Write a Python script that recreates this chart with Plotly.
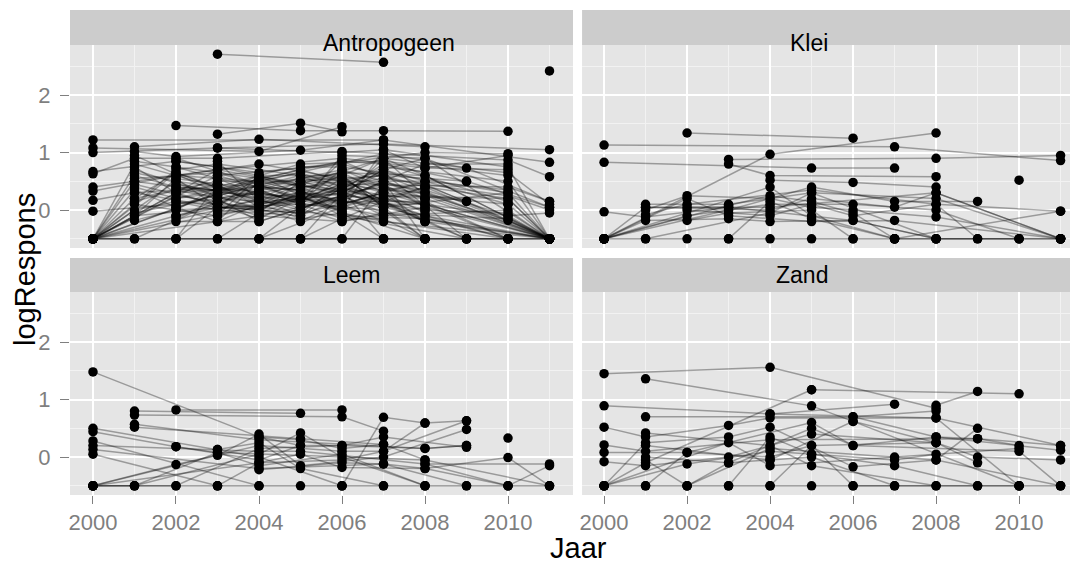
import plotly.graph_objects as go

# facet names, in the order of the panels (top-left, top-right, bottom-left, bottom-right)
facets = ["Antropogeen", "Klei", "Leem", "Zand"]

x_ticks = [2000, 2002, 2004, 2006, 2008, 2010]
y_ticks = [0, 1, 2]

# one list of (Jaar, logRespons) per site
antropogeen_sites = [
    [(2003, 2.71), (2007, 2.57)],
    [(2011, 2.42)],
    [(2000, 1.22), (2007, 1.22)],
    [(2002, 1.47), (2005, 1.38), (2007, 1.38), (2010, 1.37)],
    [(2003, 1.32), (2005, 1.51), (2006, 1.36)],
    [(2000, 1.08), (2004, 1.02), (2006, 1.45)],
    [(2000, 1.0), (2003, 1.08), (2007, 1.15), (2011, 1.05)],
    [(2001, 1.1), (2004, 1.23), (2008, 1.1)],
    [(2001, 1.02), (2002, 0.93), (2005, 1.04), (2007, 1.22), (2011, 0.83)],
    [(2000, 0.67), (2002, 0.85), (2004, 0.65), (2008, 1.0), (2010, 0.98)],
    [(2000, 0.63), (2001, 0.9), (2003, 0.9), (2006, 1.02), (2010, 0.87), (2011, 0.58)],
    [(2000, 0.4), (2001, 0.5), (2003, 0.7), (2006, 0.9), (2008, 0.73), (2010, 0.7)],
    [(2000, 0.33), (2002, 0.6), (2004, 0.5), (2007, 0.98), (2009, 0.73), (2011, 0.15)],
    [(2000, 0.17), (2001, 0.3), (2003, 0.4), (2005, 0.8), (2007, 0.85), (2010, 0.6)],
    [(2000, -0.02), (2002, 0.1), (2004, 0.3), (2006, 0.5), (2008, 0.5), (2010, 0.35)],
    [(2000, -0.5), (2001, 0.2), (2003, 0.5), (2005, 0.5), (2007, 0.6), (2009, 0.5), (2011, 0.05)],
    [(2000, -0.5), (2002, 0.3), (2004, 0.4), (2006, 0.7), (2008, 0.3), (2011, -0.5)],
    [(2000, -0.5), (2003, 0.6), (2006, 0.8), (2008, 0.4), (2010, 0.2), (2011, -0.5)],
    [(2000, -0.5), (2001, -0.1), (2004, 0.1), (2007, 0.4), (2009, 0.15), (2011, -0.5)],
    [(2000, -0.5), (2002, -0.1), (2005, 0.3), (2007, 0.2), (2010, -0.1), (2011, -0.05)],
    [(2000, -0.5), (2004, 0.55), (2006, 0.3), (2008, -0.1), (2011, -0.5)],
    [(2000, -0.5), (2001, 0.6), (2003, 0.2), (2006, 0.6), (2008, 0.2), (2011, -0.5)],
    [(2000, -0.5), (2005, 0.2), (2007, 0.7), (2010, 0.1), (2011, -0.5)],
    [(2000, -0.5), (2002, 0.5), (2006, 0.1), (2007, 0.3), (2011, -0.5)],
    [(2000, -0.5), (2003, 0.0), (2005, -0.1), (2007, 0.5), (2010, -0.18), (2011, -0.5)],
    [(2000, -0.5), (2001, 0.8), (2004, 0.2), (2006, 0.4), (2009, -0.5)],
    [(2000, -0.5), (2002, 0.7), (2003, 0.8), (2005, 0.6), (2007, 0.05), (2010, 0.3)],
    [(2000, -0.5), (2004, -0.1), (2006, -0.2), (2008, 0.05), (2011, -0.5)],
    [(2001, 0.95), (2003, 0.3), (2006, 0.2), (2008, 0.8), (2010, 0.8)],
    [(2001, 0.7), (2004, 0.0), (2007, 0.9), (2010, 0.65), (2011, 0.1)],
    [(2001, 0.4), (2002, 0.2), (2005, 0.7), (2007, 0.3), (2008, -0.2), (2011, -0.5)],
    [(2001, 0.1), (2003, -0.1), (2004, 0.6), (2006, -0.1), (2009, -0.5)],
    [(2001, -0.18), (2002, 0.0), (2005, 0.1), (2006, 0.95), (2008, 0.9), (2011, -0.5)],
    [(2001, -0.5), (2003, 0.15), (2004, 0.3), (2007, -0.1), (2010, 0.0), (2011, -0.5)],
    [(2001, 0.55), (2003, 0.65), (2006, 0.0), (2007, 1.05), (2010, 0.75), (2011, -0.5)],
    [(2002, 0.9), (2004, 0.45), (2006, 0.65), (2008, 0.6), (2011, -0.5)],
    [(2002, 0.4), (2003, 0.35), (2005, 0.0), (2007, 0.75), (2010, 0.5), (2011, -0.5)],
    [(2002, -0.2), (2004, -0.2), (2006, 0.25), (2008, 0.1), (2011, -0.5)],
    [(2002, 0.05), (2003, -0.2), (2005, 0.4), (2007, -0.2), (2010, -0.5)],
    [(2002, -0.5), (2003, 0.45), (2005, 0.35), (2006, -0.05), (2008, -0.5)],
    [(2002, 0.6), (2004, 0.8), (2006, 0.55), (2007, 0.15), (2009, -0.5)],
    [(2003, -0.5), (2004, -0.05), (2006, 0.45), (2007, 0.55), (2010, 0.25), (2011, 0.0)],
    [(2003, 0.25), (2005, -0.2), (2006, 0.15), (2008, 0.15), (2010, -0.5)],
    [(2003, 0.85), (2004, 0.15), (2007, 0.0), (2008, -0.5)],
    [(2003, -0.1), (2006, 0.35), (2007, -0.5), (2011, -0.5)],
    [(2004, 0.35), (2005, 0.55), (2007, 0.35), (2008, 0.45), (2011, -0.5)],
    [(2004, -0.5), (2006, 0.05), (2007, 0.25), (2010, 0.2), (2011, -0.5)],
    [(2005, 0.75), (2006, 0.75), (2007, 0.65), (2010, 0.3), (2011, -0.5)],
    [(2005, -0.5), (2006, -0.15), (2007, -0.15), (2008, -0.5)],
    [(2006, -0.5), (2007, 0.45), (2008, 0.35), (2010, -0.1), (2011, -0.5)],
    [(2000, -0.5), (2001, 0.0), (2002, 0.15), (2004, 0.05), (2006, -0.1), (2008, -0.15), (2011, -0.5)],
    [(2000, -0.5), (2001, -0.5), (2011, -0.5)],
    [(2000, -0.5), (2003, -0.5), (2005, -0.5), (2007, -0.5), (2009, -0.5), (2011, -0.5)],
    [(2000, -0.5), (2002, -0.5), (2004, -0.5), (2006, -0.5), (2008, -0.5), (2010, -0.5)],
    [(2001, 0.85), (2002, 0.75), (2004, 0.55), (2006, 0.85), (2007, 0.8), (2009, 0.5)],
    [(2002, 0.3), (2004, -0.15), (2005, 0.2), (2007, 0.1), (2008, 0.0), (2010, -0.05)],
    [(2003, 0.55), (2004, 0.25), (2006, -0.2), (2007, -0.05), (2010, -0.15), (2011, -0.5)],
    [(2001, 0.3), (2003, 0.05), (2005, -0.05), (2006, 0.45), (2010, 0.4), (2011, 0.15)],
    [(2002, -0.5), (2004, 0.6), (2006, 0.6), (2008, -0.5)],
    [(2000, -0.5), (2003, 0.7), (2005, 0.45), (2007, 0.6), (2011, -0.5)],
    [(2004, -0.5), (2005, 0.05), (2006, 0.2), (2007, 0.9), (2008, 0.25), (2011, -0.5)],
    [(2001, 0.2), (2002, 0.65), (2005, -0.15), (2006, -0.05), (2007, -0.5)],
    [(2005, -0.5), (2006, 0.3), (2007, 0.7), (2008, 0.9), (2011, 0.05)],
    [(2000, -0.5), (2001, 0.5), (2002, 0.4), (2003, 0.35), (2005, 0.65), (2008, -0.1), (2010, -0.5)],
    [(2003, 1.08), (2006, 1.0), (2007, 1.05), (2008, 0.73), (2010, 0.95)],
    [(2002, 0.2), (2003, 0.3), (2004, 0.1), (2005, 0.25), (2006, 0.35), (2007, 0.2), (2008, 0.0)],
    [(2002, 0.55), (2003, 0.45), (2004, 0.3), (2005, 0.15), (2006, 0.4), (2007, 0.5), (2008, 0.2)],
    [(2002, -0.1), (2003, 0.1), (2004, 0.45), (2005, 0.3), (2006, 0.1), (2007, 0.3), (2008, -0.05)],
    [(2001, 0.15), (2002, 0.35), (2003, 0.2), (2004, 0.15), (2005, 0.45), (2006, 0.25), (2007, -0.1)],
    [(2002, 0.75), (2003, 0.55), (2004, 0.4), (2005, 0.2), (2006, 0.05), (2007, 0.35), (2008, 0.3)],
    [(2003, 0.1), (2004, 0.35), (2005, 0.1), (2006, 0.55), (2007, 0.15), (2008, -0.2)],
    [(2002, 0.45), (2004, 0.2), (2005, 0.5), (2006, 0.3), (2007, 0.65), (2009, -0.5)],
    [(2000, -0.5), (2002, 0.25), (2003, 0.15), (2004, 0.0), (2005, 0.3), (2006, 0.15), (2007, 0.05)],
    [(2001, 0.65), (2002, 0.5), (2003, 0.25), (2005, 0.6), (2006, 0.5), (2007, 0.1), (2008, 0.1)],
    [(2002, 0.0), (2003, 0.4), (2004, 0.25), (2006, 0.0), (2007, 0.2), (2008, 0.4)],
    [(2003, -0.05), (2004, 0.1), (2005, 0.25), (2006, -0.05), (2007, -0.2), (2011, -0.5)],
    [(2001, -0.05), (2003, 0.25), (2004, 0.45), (2005, 0.15), (2006, 0.7), (2007, 0.4), (2010, -0.5)],
    [(2002, 0.15), (2003, 0.0), (2004, 0.2), (2005, -0.1), (2006, 0.4), (2007, 0.25), (2008, 0.2)],
    [(2000, -0.5), (2001, 0.35), (2002, 0.05), (2004, 0.5), (2006, 0.15), (2007, 0.5), (2008, -0.5)],
    [(2003, 0.6), (2004, 0.4), (2005, 0.35), (2006, 0.6), (2007, 0.05), (2010, -0.5)],
    [(2002, 0.85), (2003, 0.75), (2005, 0.45), (2007, 0.9), (2008, 0.6), (2011, -0.5)],
    [(2001, 0.45), (2003, 0.1), (2004, -0.1), (2005, 0.05), (2007, 0.45), (2008, 0.05)],
    [(2002, -0.15), (2003, 0.2), (2004, -0.2), (2006, 0.25), (2007, -0.05), (2011, -0.5)],
    [(2000, -0.5), (2003, 0.3), (2004, 0.6), (2005, 0.4), (2006, 0.45), (2008, -0.2)],
    [(2001, 0.75), (2002, 0.3), (2003, 0.45), (2004, 0.05), (2006, 0.3), (2007, 0.7), (2009, 0.15)],
    [(2003, 0.15), (2004, -0.05), (2005, 0.5), (2006, 0.65), (2007, 0.3), (2010, 0.1)],
    [(2002, 0.35), (2004, 0.35), (2006, -0.15), (2007, 0.15), (2008, 0.4), (2011, -0.5)],
    [(2000, -0.5), (2002, 0.65), (2004, 0.15), (2005, 0.2), (2006, 0.85), (2007, 0.55)],
    [(2003, -0.2), (2004, 0.5), (2006, 0.35), (2007, 0.8), (2010, 0.15)],
    [(2001, -0.1), (2002, 0.55), (2003, 0.05), (2005, -0.05), (2006, 0.1), (2008, 0.5)],
]

klei_sites = [
    [(2002, 1.34), (2006, 1.25)],
    [(2000, 1.13), (2007, 1.1), (2011, 0.86)],
    [(2000, -0.5), (2004, 0.97), (2008, 1.34)],
    [(2000, 0.83), (2005, 0.73), (2007, 0.73)],
    [(2003, 0.88), (2008, 0.9), (2011, 0.95)],
    [(2003, 0.8), (2004, 0.6), (2008, 0.58)],
    [(2004, 0.52), (2006, 0.48), (2008, 0.4)],
    [(2000, -0.03), (2001, -0.12), (2003, 0.05)],
    [(2001, 0.1), (2003, 0.1), (2005, 0.3), (2008, 0.2), (2011, -0.5)],
    [(2001, 0.0), (2002, 0.25), (2004, 0.2), (2005, 0.05), (2006, 0.0), (2008, -0.12), (2011, -0.5)],
    [(2000, -0.5), (2002, -0.1), (2004, 0.1), (2006, 0.1), (2008, 0.0), (2010, -0.5)],
    [(2000, -0.5), (2003, 0.0), (2005, 0.4), (2007, 0.15), (2009, 0.15)],
    [(2000, -0.5), (2001, 0.05), (2004, 0.0), (2005, 0.2), (2007, 0.05), (2008, 0.3), (2011, -0.5)],
    [(2000, -0.5), (2002, 0.2), (2003, -0.1), (2005, -0.2), (2007, -0.18), (2011, -0.5)],
    [(2000, -0.5), (2001, -0.18), (2003, -0.15), (2004, -0.2), (2006, -0.18), (2008, -0.5)],
    [(2002, 0.0), (2004, -0.1), (2005, 0.1), (2006, -0.1), (2008, 0.1), (2011, -0.02)],
    [(2000, -0.5), (2004, 0.4), (2005, -0.1), (2007, -0.5)],
    [(2002, -0.18), (2003, -0.05), (2005, 0.0), (2006, -0.5)],
    [(2000, -0.5), (2001, -0.5), (2002, -0.5), (2003, -0.5), (2004, -0.5), (2005, -0.5),
     (2006, -0.5), (2007, -0.5), (2008, -0.5), (2009, -0.5), (2010, -0.5), (2011, -0.5)],
    [(2001, -0.5), (2004, -0.05), (2005, 0.3), (2008, -0.5)],
    [(2003, -0.5), (2004, 0.15), (2005, -0.15), (2007, -0.5), (2011, -0.5)],
    [(2007, -0.5), (2011, -0.02)],
    [(2010, 0.52)],
    [(2002, 0.05), (2004, 0.05), (2008, 0.3), (2011, -0.5)],
    [(2001, 0.05), (2003, 0.05), (2006, -0.18), (2008, -0.5), (2010, -0.5)],
    [(2000, -0.5), (2003, 0.08), (2004, 0.25), (2005, 0.15), (2006, -0.05), (2007, -0.5)],
    [(2001, -0.08), (2002, 0.1), (2005, 0.35), (2008, 0.1), (2009, -0.5)],
]

leem_sites = [
    [(2000, 1.48), (2004, 0.35), (2005, 0.2)],
    [(2001, 0.8), (2005, 0.76)],
    [(2002, 0.82), (2006, 0.82)],
    [(2001, 0.73), (2006, 0.7), (2007, 0.45)],
    [(2001, 0.57), (2004, 0.3), (2008, 0.15), (2009, 0.2)],
    [(2001, 0.52), (2005, 0.32), (2007, 0.22)],
    [(2000, 0.5), (2003, 0.13), (2004, 0.0), (2006, -0.5)],
    [(2000, 0.44), (2002, 0.18), (2003, 0.08), (2008, -0.05)],
    [(2000, 0.28), (2004, -0.5)],
    [(2000, 0.2), (2004, 0.1), (2005, 0.1), (2008, -0.12), (2011, -0.12)],
    [(2000, 0.13), (2004, -0.2), (2007, -0.12), (2009, -0.5)],
    [(2000, 0.05), (2003, -0.5)],
    [(2000, -0.5), (2002, -0.13), (2004, 0.2), (2006, 0.1), (2007, 0.1), (2008, 0.59), (2009, 0.63)],
    [(2000, -0.5), (2003, 0.03), (2004, 0.4), (2005, -0.15), (2007, 0.0), (2009, 0.48)],
    [(2000, -0.5), (2001, -0.5), (2002, -0.5), (2003, -0.5), (2004, -0.5), (2005, -0.5),
     (2006, -0.5), (2007, -0.5), (2008, -0.5), (2009, -0.5), (2010, -0.5), (2011, -0.5)],
    [(2000, -0.5), (2004, -0.1), (2005, 0.05), (2006, -0.18), (2008, -0.2), (2010, -0.01), (2011, -0.5)],
    [(2000, -0.5), (2002, -0.5), (2004, 0.15), (2006, 0.2), (2007, 0.35), (2009, 0.17)],
    [(2001, -0.5), (2004, 0.05), (2005, 0.42), (2006, 0.0), (2008, -0.5)],
    [(2003, 0.13), (2004, 0.25), (2005, -0.2), (2007, -0.5)],
    [(2006, -0.5), (2007, 0.69), (2008, 0.59)],
    [(2004, -0.22), (2006, -0.1), (2007, -0.12), (2008, -0.2), (2010, -0.5)],
    [(2002, 0.18), (2004, -0.05), (2005, 0.2), (2006, 0.2), (2008, 0.15), (2009, 0.2)],
    [(2010, 0.33)],
    [(2008, -0.12), (2010, -0.5), (2011, -0.15)],
    [(2004, 0.35), (2005, 0.3), (2006, 0.15), (2007, 0.22), (2008, -0.05), (2011, -0.5)],
    [(2000, -0.5), (2001, -0.5), (2003, 0.08), (2004, -0.15), (2006, 0.05), (2008, -0.5)],
    [(2003, -0.5), (2004, -0.1), (2006, -0.05), (2007, 0.1), (2009, 0.63)],
]

zand_sites = [
    [(2000, 1.45), (2004, 1.56), (2008, 0.85)],
    [(2001, 1.36), (2005, 0.89), (2006, 0.62), (2010, -0.5)],
    [(2005, 1.17), (2010, 1.1)],
    [(2008, 0.9), (2009, 1.14)],
    [(2000, 0.89), (2004, 0.75), (2007, 0.92)],
    [(2001, 0.7), (2006, 0.7), (2008, 0.8)],
    [(2000, 0.52), (2001, 0.35), (2003, 0.55), (2004, 0.68), (2008, 0.68), (2011, 0.2)],
    [(2000, 0.21), (2001, 0.1), (2004, 0.3), (2009, 0.32), (2010, 0.2)],
    [(2000, 0.08), (2002, 0.08), (2005, 0.6), (2006, 0.2), (2008, 0.35), (2011, 0.12)],
    [(2000, -0.08), (2001, -0.15), (2003, 0.0), (2005, 0.4), (2008, 0.25), (2009, 0.0), (2011, -0.05)],
    [(2000, -0.5), (2001, -0.1), (2005, 1.17)],
    [(2000, -0.5), (2001, 0.25), (2003, 0.35), (2004, 0.52), (2006, -0.17), (2008, -0.05), (2009, 0.5)],
    [(2000, -0.5), (2002, -0.12), (2004, 0.1), (2005, 0.05), (2007, -0.05), (2008, 0.05)],
    [(2000, -0.5), (2003, 0.25), (2004, -0.15), (2007, 0.0), (2010, 0.15)],
    [(2000, -0.5), (2001, -0.5), (2002, -0.5), (2003, -0.5), (2004, -0.5), (2005, -0.5),
     (2006, -0.5), (2007, -0.5), (2008, -0.5), (2009, -0.5), (2010, -0.5), (2011, -0.5)],
    [(2001, 0.0), (2003, -0.1), (2005, 0.5), (2006, 0.2), (2010, 0.1), (2011, -0.5)],
    [(2001, 0.42), (2004, 0.2), (2005, -0.15), (2008, -0.5)],
    [(2001, -0.5), (2002, 0.08), (2004, 0.0), (2005, 0.2), (2008, 0.25), (2009, -0.1)],
    [(2003, -0.5), (2004, 0.35), (2005, 0.05), (2007, -0.15), (2009, -0.5)],
    [(2004, 0.75), (2008, 0.68), (2010, -0.5)],
    [(2002, -0.5), (2003, -0.1), (2004, -0.05), (2006, 0.62), (2008, 0.25)],
    [(2001, 0.2), (2004, -0.05), (2005, 0.0), (2007, -0.5)],
    [(2004, -0.5), (2005, 0.2), (2006, -0.5), (2010, -0.5)],
    [(2006, 0.7), (2008, 0.35), (2009, 0.32), (2011, 0.2)],
    [(2001, -0.05), (2002, -0.5), (2004, 0.15), (2008, -0.05), (2011, -0.5)],
]

all_sites = [antropogeen_sites, klei_sites, leem_sites, zand_sites]

# panel geometry (paper coords); the page adds an 8px body margin, so the
# figure is 8px smaller than the window and the margins are shifted by 8px
x_domains = [[0, 0.499], [0.508, 1], [0, 0.499], [0.508, 1]]
y_domains = [[0.5093, 0.9278], [0.5093, 0.9278], [0, 0.4186], [0, 0.4186]]
strip_top = [1.0, 1.0, 0.4887, 0.4887]
x_ranges = [[1999.446, 2011.566], [1999.47, 2011.42], [1999.446, 2011.566], [1999.47, 2011.42]]
y_range = [-0.66, 2.87]

FONT = "Liberation Sans, Arial, sans-serif"
GREY50 = "#7f7f7f"

fig = go.Figure()

for i, sites in enumerate(all_sites):
    xa = "x" if i == 0 else "x%d" % (i + 1)
    ya = "y" if i == 0 else "y%d" % (i + 1)
    # lines, one trace per site so the transparency stacks up
    for s in sites:
        if len(s) < 2:
            continue
        fig.add_trace(go.Scatter(
            x=[p[0] for p in s], y=[p[1] for p in s],
            mode="lines", xaxis=xa, yaxis=ya,
            line=dict(color="rgba(0,0,0,0.33)", width=1.5),
            hoverinfo="skip", showlegend=False,
        ))
    # points on top
    px = [p[0] for s in sites for p in s]
    py = [p[1] for s in sites for p in s]
    fig.add_trace(go.Scatter(
        x=px, y=py, mode="markers", xaxis=xa, yaxis=ya,
        marker=dict(color="black", size=9.5),
        showlegend=False,
    ))

layout = dict(
    width=1070, height=558,
    margin=dict(l=62, r=0, t=2, b=71),
    paper_bgcolor="white",
    plot_bgcolor="#e5e5e5",
    font=dict(family=FONT),
    showlegend=False,
)

shapes = []
annotations = []
for i in range(4):
    key = "" if i == 0 else str(i + 1)
    bottom = i >= 2
    left = i % 2 == 0
    layout["xaxis" + key] = dict(
        domain=x_domains[i], range=x_ranges[i], anchor="y" + key,
        tickvals=x_ticks, showticklabels=bottom,
        ticks="outside" if bottom else "", ticklen=8, tickcolor=GREY50, tickwidth=1,
        tickfont=dict(size=22, color=GREY50, family=FONT),
        showgrid=True, gridcolor="white", gridwidth=2, zeroline=False, showline=False,
        minor=dict(tickvals=[2001, 2003, 2005, 2007, 2009, 2011], showgrid=True,
                   gridcolor="#f2f2f2", gridwidth=1),
    )
    layout["yaxis" + key] = dict(
        domain=y_domains[i], range=y_range, anchor="x" + key,
        tickvals=y_ticks, showticklabels=left,
        ticks="outside" if left else "", ticklen=9, tickcolor=GREY50, tickwidth=1,
        ticklabelstandoff=5,
        tickfont=dict(size=22, color=GREY50, family=FONT),
        showgrid=True, gridcolor="white", gridwidth=2, zeroline=False, showline=False,
        minor=dict(tickvals=[-0.5, 0.5, 1.5, 2.5], showgrid=True,
                   gridcolor="#f2f2f2", gridwidth=1),
    )
    # facet strip
    shapes.append(dict(type="rect", xref="paper", yref="paper",
                       x0=x_domains[i][0], x1=x_domains[i][1],
                       y0=y_domains[i][1], y1=strip_top[i],
                       fillcolor="#cccccc", line=dict(width=0), layer="below"))
    annotations.append(dict(text=facets[i], xref="paper", yref="paper",
                            x=(x_domains[i][0] + x_domains[i][1]) / 2,
                            y=(y_domains[i][1] + strip_top[i]) / 2,
                            showarrow=False, font=dict(size=23, color="black", family=FONT)))

annotations.append(dict(text="Jaar", xref="paper", yref="paper", x=0.504, y=-0.11,
                        yanchor="middle", showarrow=False,
                        font=dict(size=29, color="black", family=FONT)))
annotations.append(dict(text="logRespons", xref="paper", yref="paper", x=-0.0446, y=0.464,
                        xanchor="center", yanchor="middle", textangle=-90, showarrow=False,
                        font=dict(size=29, color="black", family=FONT)))

layout["shapes"] = shapes
layout["annotations"] = annotations
fig.update_layout(**layout)

fig.write_html("out.html")
